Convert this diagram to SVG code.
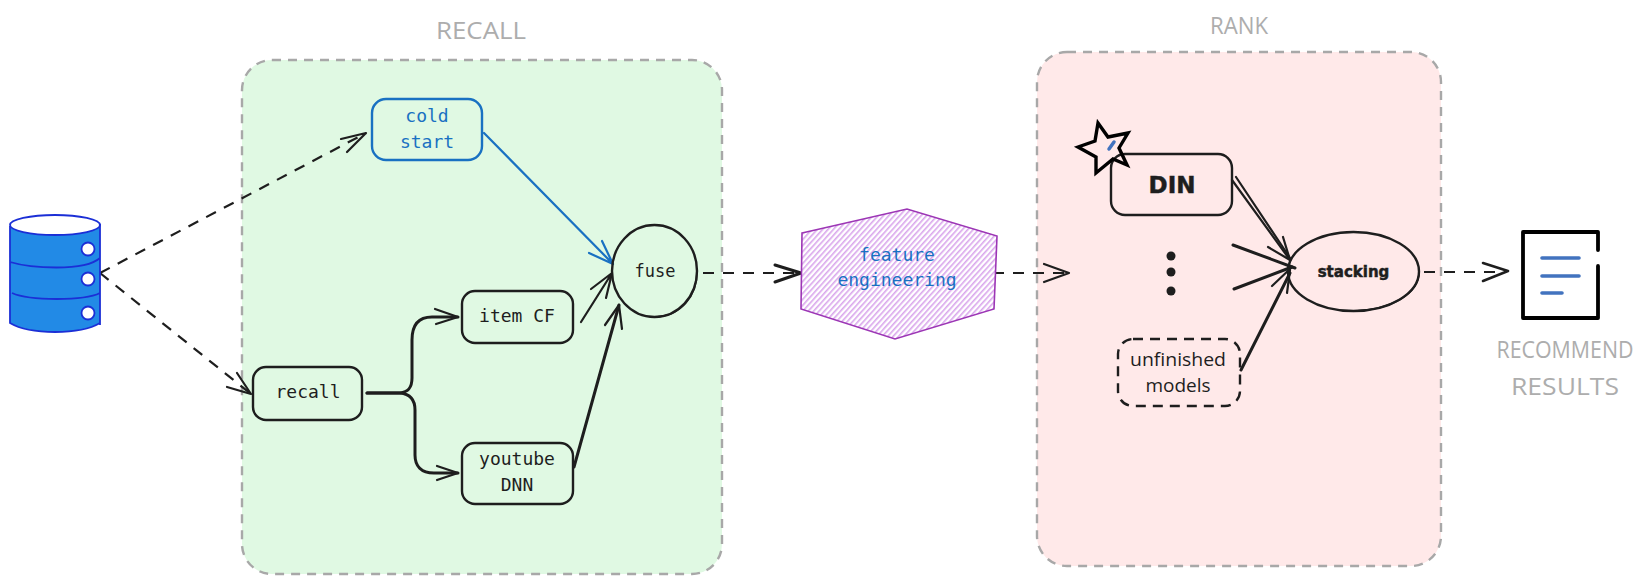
<svg xmlns="http://www.w3.org/2000/svg" width="1644" height="584" viewBox="0 0 1644 584">
<defs>
<pattern id="hatch" width="4" height="4" patternUnits="userSpaceOnUse" patternTransform="rotate(-48)"><rect width="4" height="4" fill="#fff"/><rect width="4" height="1.6" fill="#d9a6ec"/></pattern>
<style>
.ln{fill:none;stroke:#1e1e1e;stroke-width:2.2;stroke-linecap:round;stroke-linejoin:round}
.th{stroke-width:3}
.dash{stroke-dasharray:11 9;stroke-linecap:butt}
.bl{fill:none;stroke:#1971c2;stroke-width:2.2;stroke-linecap:round;stroke-linejoin:round}
.box{fill:none;stroke:#1e1e1e;stroke-width:2.4}
.grp{stroke:#a8a8a8;stroke-width:2.4;stroke-dasharray:9 7}
.mono{font-family:"DejaVu Sans Mono","Liberation Mono",monospace;font-size:18px;fill:#1e1e1e;text-anchor:middle}
.hand{font-family:"Open Sans","Liberation Sans",sans-serif;font-size:23px;fill:#adadad;text-anchor:middle}
.note{font-family:"Open Sans","Liberation Sans",sans-serif;font-size:19px;fill:#1e1e1e;text-anchor:middle}
.heavy{font-family:"DejaVu Sans","Liberation Sans",sans-serif;font-weight:700;fill:#1e1e1e;stroke:#1e1e1e;stroke-width:.5;text-anchor:middle}
.blue{fill:#1971c2}
.db{fill:none;stroke:#1b2fd6;stroke-width:1.8}
.dbc{fill:#fff;stroke:#1b2fd6;stroke-width:1.8}
</style>
</defs>
<g id="group-recall"><rect x="242" y="60" width="480" height="514" rx="30" fill="#e0f9e3" class="grp"/><text x="481" y="39" class="hand" textLength="90" lengthAdjust="spacingAndGlyphs">RECALL</text></g>
<g id="group-rank"><rect x="1037" y="52" width="404" height="514" rx="30" fill="#ffe9e9" class="grp"/><text x="1239" y="34" class="hand" textLength="58" lengthAdjust="spacingAndGlyphs">RANK</text></g>
<g id="connectors">
<path class="ln dash" d="M100 273L366 133"/><path class="ln" d="M341 139L366 133L347 152"/>
<path class="ln dash" d="M100 273L251 394"/><path class="ln" d="M237 373L251 394L227 387"/>
<path class="bl" d="M484 133L613 264M602 241L613 264L589 253"/>
<path class="ln th" d="M367 393H400C408 392 412 388 412 378V340C412 326 418 317 432 317H458"/>
<path class="ln th" d="M367 393H400C410 394 415 400 415 410V455C415 466 421 473 434 473H458"/>
<path class="ln" d="M435 309L458 317L436 324"/><path class="ln" d="M437 466L458 473L437 480"/>
<path class="ln" d="M581 322L612 273M591 289L612 273L606 298"/>
<path class="ln th" d="M574 467L619 305"/><path class="ln" d="M605 325L619 305L622 329"/>
<path class="ln dash" d="M703 273H800"/><path class="ln th" d="M775 265L801 273L775 282"/>
<path class="ln dash" d="M993 273H1068"/><path class="ln" d="M1044 264L1069 273L1044 282"/>
<path class="ln" d="M1232 180L1290 260"/><path class="ln" d="M1236 177L1290 258"/><path class="ln" d="M1283 237L1290 260L1268 247"/>
<path class="ln th" d="M1233 245L1295 268"/><path class="ln th" d="M1234 289L1292 267"/><path class="ln" d="M1272 286L1292 267"/>
<path class="ln th" d="M1241 370L1290 273"/><path class="ln" d="M1287 293L1290 270"/>
<path class="ln dash" d="M1424 272H1505"/><path class="ln" style="stroke-width:2.6" d="M1483 263L1508 271L1483 281"/>
</g>
<g id="database">
<path d="M10 226V323C30 335 80 335 100 323V224Z" fill="#228ae6"/>
<ellipse cx="55" cy="225" rx="45" ry="10" fill="#fff"/>
<ellipse cx="55" cy="225" rx="45" ry="10" class="db"/>
<path class="db" d="M10 226V323C30 335 80 335 100 323M100 224V325M10 262C30 268 84 272 100 258M12 293C30 301 84 301 100 293"/>
<circle cx="88" cy="249" r="6.5" class="dbc"/><circle cx="88" cy="279" r="6.5" class="dbc"/><circle cx="88" cy="313" r="6.5" class="dbc"/>
</g>
<g id="cold-start"><rect x="372" y="99" width="110" height="61" rx="14" fill="none" stroke="#1971c2" stroke-width="2.4"/><text x="427" y="122" class="mono blue">cold</text><text x="427" y="148" class="mono blue">start</text></g>
<g id="fuse"><ellipse cx="654.5" cy="271" rx="42.5" ry="46" class="box"/><path d="M697 272C697 295 682 316 655 317" fill="none" stroke="#1e1e1e" stroke-width="1.6"/><text x="655" y="277" class="mono" style="font-size:17px">fuse</text></g>
<g id="item-cf"><rect x="462" y="291" width="111" height="52" rx="13" class="box"/><text x="517" y="322" class="mono">item CF</text></g>
<g id="recall"><rect x="253" y="367" width="109" height="53" rx="13" class="box"/><text x="308" y="398" class="mono">recall</text></g>
<g id="youtube-dnn"><rect x="462" y="443" width="111" height="61" rx="13" class="box"/><text x="517" y="465" class="mono">youtube</text><text x="517" y="491" class="mono">DNN</text></g>
<g id="feature-engineering"><path d="M802 233L907 209L997 236L994 309L895 339L801 309Z" fill="url(#hatch)" stroke="#9c36b5" stroke-width="1.6"/><text x="897" y="261" class="mono blue">feature</text><text x="897" y="286" class="mono blue">engineering</text></g>
<g id="din"><rect x="1111" y="154" width="121" height="61" rx="14" class="box"/><text x="1172" y="193" class="heavy" font-size="23">DIN</text></g>
<g id="star"><path d="M1098 123L1108 137L1128 133L1119 148L1127 165L1113 159L1096 173L1096 157L1078 147L1095 141Z" fill="none" stroke="#000" stroke-width="3.4"/><path d="M1109 149L1114 142" stroke="#4273bf" stroke-width="3.5" stroke-linecap="round"/></g>
<g id="dots"><circle cx="1171" cy="256" r="4.5" fill="#1e1e1e"/><circle cx="1171" cy="272" r="4.5" fill="#1e1e1e"/><circle cx="1171" cy="291" r="4.5" fill="#1e1e1e"/></g>
<g id="unfinished-models"><rect x="1118" y="339" width="122" height="67" rx="15" class="box" stroke-dasharray="10 7"/><text x="1178" y="366" class="note" textLength="96" lengthAdjust="spacingAndGlyphs">unfinished</text><text x="1178" y="392" class="note">models</text></g>
<g id="stacking"><ellipse cx="1353.5" cy="271.5" rx="65.5" ry="39.5" class="box"/><path d="M1419 272C1419 292 1395 309 1355 311" fill="none" stroke="#1e1e1e" stroke-width="1.6"/><text x="1353.5" y="277" class="heavy" font-size="15">stacking</text></g>
<g id="results">
<path d="M1598 250V232H1523V318H1598V266" fill="#fff" stroke="#000" stroke-width="3.8" stroke-linecap="round" stroke-linejoin="round"/>
<path d="M1542 258H1579M1542 276H1579M1542 293H1562" stroke="#4273bf" stroke-width="3.6" stroke-linecap="round" fill="none"/>
<text x="1565" y="358" class="hand" textLength="137" lengthAdjust="spacingAndGlyphs">RECOMMEND</text><text x="1565" y="395" class="hand" textLength="108" lengthAdjust="spacingAndGlyphs">RESULTS</text>
</g>
</svg>
